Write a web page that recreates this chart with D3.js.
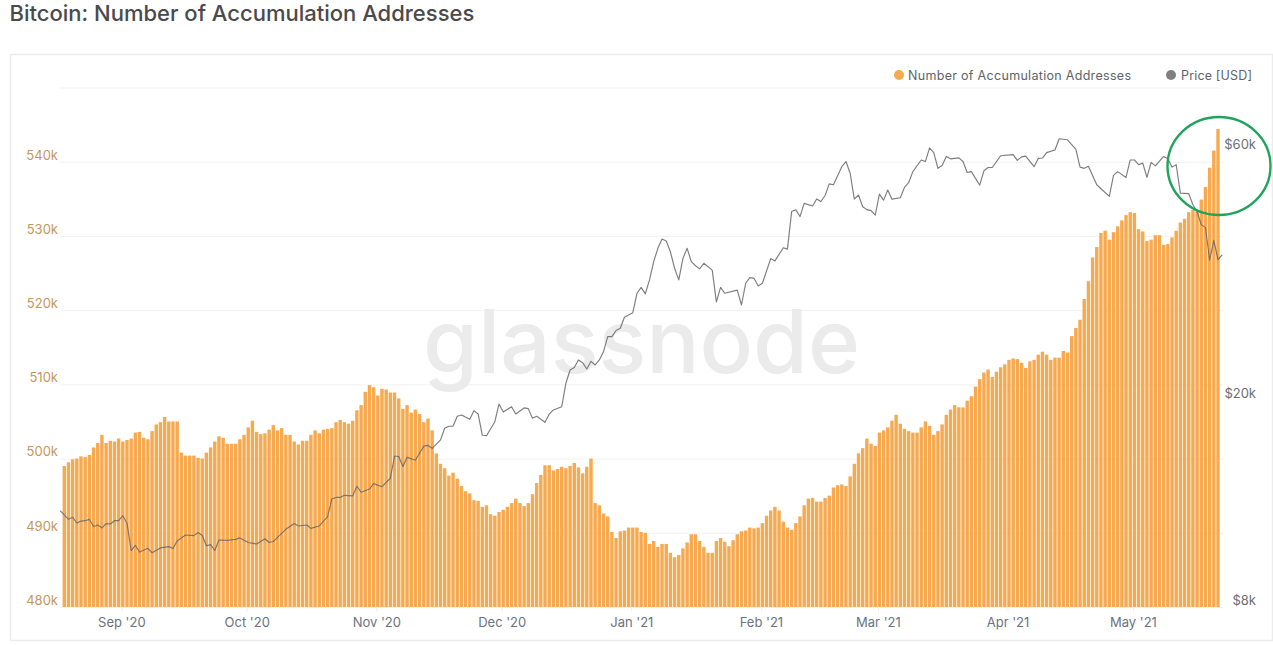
<!DOCTYPE html>
<html lang="en">
<head>
<meta charset="utf-8">
<title>Bitcoin: Number of Accumulation Addresses</title>
<script src="https://cdn.jsdelivr.net/npm/d3@7"></script>
<style>
  html, body { margin: 0; padding: 0; background: #fff; }
  svg { display: block; font-family: Inter, "Noto Sans", sans-serif; }
</style>
</head>
<body>
<script>
// daily number of accumulation addresses (thousands), first value is 18 Aug 2020
var addresses = [
  499.0,499.5,499.9,500.0,500.3,500.2,500.5,501.5,502.1,503.2,
  502.1,502.4,502.3,502.7,502.3,502.5,502.7,503.5,503.6,502.8,
  502.6,503.7,504.6,504.9,505.6,505.0,505.0,505.0,500.8,500.4,
  500.4,500.4,500.1,500.0,500.8,501.5,502.3,503.0,502.8,502.0,
  502.0,502.0,502.6,503.2,504.2,505.1,503.6,503.3,503.4,503.9,
  504.5,503.8,504.1,503.2,503.2,502.3,501.9,502.4,502.4,503.2,
  503.8,503.4,503.9,504.0,504.1,504.9,505.2,504.9,504.7,505.1,
  506.5,507.2,509.0,509.9,509.6,508.5,509.4,509.3,508.9,508.9,
  508.1,506.7,507.2,506.2,506.6,506.0,504.9,505.4,
  503.8,500.7,499.3,498.7,497.7,498.1,497.3,496.3,495.6,495.3,
  494.4,494.3,493.5,493.7,492.5,492.3,492.8,493.1,493.5,494.0,
  494.6,494.0,493.6,494.0,495.2,496.7,497.8,499.1,499.1,498.4,
  498.6,498.9,498.7,499.0,499.4,498.8,498.0,498.9,500.0,494.0,
  493.7,492.6,492.2,490.1,489.3,490.2,490.3,490.7,490.7,490.7,
  490.1,490.0,488.5,488.9,488.1,488.5,488.5,487.3,486.7,487.0,
  487.9,488.7,489.8,489.8,488.9,488.1,487.3,487.3,488.9,489.3,
  488.8,488.2,489.0,489.8,490.2,490.3,490.7,490.6,490.7,491.3,
  492.3,493.0,493.5,493.0,491.5,490.7,490.4,491.3,492.2,493.7,
  494.6,494.7,494.2,494.2,494.7,495.0,496.1,496.4,496.5,496.3,
  497.6,
  499.3,500.7,501.4,502.7,502.0,501.7,503.5,503.8,504.2,505.1,
  505.9,504.7,504.0,503.7,503.5,503.5,504.2,505.0,504.4,503.2,
  503.7,504.6,505.9,506.6,507.2,506.9,506.9,507.8,508.4,509.7,
  510.7,511.6,512.0,511.0,511.7,512.3,512.7,513.3,513.5,513.4,
  512.9,512.2,513.1,513.3,514.0,514.4,514.0,513.3,513.6,513.6,
  514.5,514.3,516.5,517.6,518.7,521.5,523.9,527.1,528.5,530.4,
  530.7,529.5,530.5,531.3,532.1,532.8,533.2,533.1,530.9,530.6,
  529.3,529.5,530.1,530.1,528.8,528.9,529.8,530.7,531.8,532.3,
  533.2,533.5,533.3,534.9,536.6,539.2,541.5,544.4
]

// price [USD, thousands] as [days after 18 Aug 2020, price]
var price = [
  [-1,12.25],[1,11.79],[2,11.9],[3,11.6],[4,11.7],[5,11.72],[6,11.79],[7,11.42],[8,11.5],[9,11.35],
  [10,11.57],[11,11.55],[12,11.72],[13,11.72],[14,11.98],[15,11.59],[16,10.27],[17,10.51],[18,10.2],
  [20,10.37],[21,10.17],[23,10.39],[25,10.45],[26,10.36],[27,10.71],[29,11.0],[31,10.97],[32,11.12],
  [33,10.98],[34,10.49],[35,10.54],[36,10.27],[37,10.76],[39,10.74],[41,10.79],[42,10.86],[44,10.64],
  [46,10.57],[48,10.82],[49,10.64],[50,10.69],[53,11.28],[55,11.57],[56,11.45],[58,11.5],[59,11.33],
  [61,11.45],[63,11.93],[64,12.9],[65,12.99],[66,12.99],[67,13.11],[69,13.08],[70,13.65],[71,13.29],
  [73,13.48],[74,13.81],[76,13.62],[78,14.14],[79,15.6],[80,15.57],[81,14.89],[82,15.51],[84,15.31],
  [86,16.3],[87,16.35],[88,16.14],
  [90,16.75],[91,17.64],[92,17.8],[93,17.8],[94,18.6],[95,18.7],[97,18.35],[98,19.07],[99,18.79],
  [100,17.1],[101,17.07],[103,18.16],[104,19.64],[105,18.96],[107,19.4],[108,18.79],[110,19.3],[111,19.24],
  [112,18.44],[113,18.6],[115,18.11],[116,18.77],[117,19.13],[119,19.4],[120,21.53],[121,22.83],[122,23.07],
  [123,23.86],[124,23.58],[125,22.93],[126,23.72],[127,23.34],[128,23.86],[129,24.76],[130,26.46],[131,26.46],
  [132,27.18],[133,27.46],[134,28.83],[136,29.42],[137,32.05],[138,32.9],[139,31.96],[140,34.0],[141,36.87],
  [142,39.1],[143,40.75],[144,40.4],[145,38.5],[146,35.8],[147,34.0],[148,37.4],[149,39.1],[150,36.87],
  [151,36.2],[152,35.7],[153,36.6],[155,35.5],[156,30.86],[157,32.9],[158,32.05],[161,32.5],[162,30.43],
  [163,33.5],[164,34.35],[165,34.24],[166,33.1],[167,33.5],[169,37.36],[170,36.98],[172,39.2],[173,38.96],
  [174,46.0],[175,46.36],[176,45.0],[177,47.7],[179,47.16],[180,48.64],[181,48.1],[182,49.4],[183,52.0],
  [184,51.8],[186,56.1],[187,57.4],[188,54.5],[189,48.6],[190,49.5],[191,47.0],[192,46.4],[193,46.2],
  [194,45.3],[195,49.7],[196,48.4],[197,50.6],[198,48.6],[200,48.9],[201,51.2],[202,52.3],[203,54.9],
  [205,57.8],[206,57.4],[207,61.0],[208,59.7],[209,55.7],[210,56.4],[211,58.7],[212,58.1],[214,58.35],
  [215,57.4],[216,54.7],[217,54.9],[219,51.7],[220,55.1],[221,55.9],[222,55.9],[224,58.9],[227,59.2],
  [228,57.7],[229,58.6],[230,58.8],[232,56.1],[233,58.2],[234,58.3],[235,59.7],[237,60.4],[238,63.5],
  [240,63.2],[242,60.6],[243,56.0],[244,55.7],[245,56.2],[247,51.8],[248,50.9],[250,49.2],[251,54.0],
  [252,54.9],[254,53.5],[255,57.8],[256,57.8],[257,56.6],[258,57.0],[259,53.5],[260,57.2],[261,56.3],
  [263,58.7],[264,58.1],[265,56.0],[266,56.6],[267,49.9],[269,49.8],[270,47.4],[271,46.0],[272,43.4],
  [273,42.9],[274,37.1],[275,40.5],[276,37.2],[277,38.0]
]

var start = Date.UTC(2020, 7, 18)
function dayToDate(d) { return new Date(start + d * 864e5) }

var svg = d3.select("body").append("svg")
  .attr("width", 1273)
  .attr("height", 646)

// title and card
svg.append("text")
  .attr("x", 9.5).attr("y", 21)
  .attr("font-size", 22).attr("font-weight", 500).attr("fill", "#4a4a4a")
  .text("Bitcoin: Number of Accumulation Addresses")

svg.append("rect")
  .attr("x", 10.5).attr("y", 54.5).attr("width", 1262).attr("height", 586)
  .attr("fill", "#fff").attr("stroke", "#ececec").attr("stroke-width", 1.5)

// scales
var x = d3.scaleUtc().domain([dayToDate(0), dayToDate(276)]).range([64.3, 1218])
var yLeft = d3.scaleLinear().domain([480, 550]).range([607, 87.5])
var yRight = d3.scaleLog().domain([8, 80]).range([607, 86.5])

// gridlines and left axis
var leftAxis = svg.append("g")
  .attr("class", "left")
  .attr("transform", "translate(60,0)")
  .call(d3.axisLeft(yLeft)
    .tickValues(d3.range(480, 551, 10))
    .tickSize(-1163)
    .tickPadding(2)
    .tickFormat(function (d) { return d < 550 ? d + "k" : "" }))
leftAxis.select(".domain").remove()
leftAxis.selectAll("line").attr("stroke", "#f1f1f1")
leftAxis.selectAll("text")
  .attr("font-family", "Inter").attr("font-size", 13).attr("fill", "#c4975a")
  .attr("dy", "-0.2em")

// watermark
svg.append("text")
  .attr("x", 423).attr("y", 373)
  .attr("font-family", "Inter").attr("font-size", 88).attr("font-weight", 500)
  .attr("fill", "#ebebeb")
  .attr("textLength", 437).attr("lengthAdjust", "spacingAndGlyphs")
  .text("glassnode")

// bars
var barWidth = 3.4
svg.append("g").selectAll("rect")
  .data(addresses)
  .enter().append("rect")
  .attr("x", function (d, i) { return x(dayToDate(i)) - barWidth / 2 })
  .attr("y", function (d) { return yLeft(d) })
  .attr("width", barWidth)
  .attr("height", function (d) { return yLeft(480) - yLeft(d) })
  .attr("fill", "#f6a94f")

// price line
var line = d3.line()
  .x(function (d) { return x(dayToDate(d[0])) })
  .y(function (d) { return yRight(d[1]) })

svg.append("path")
  .datum(price)
  .attr("d", line)
  .attr("fill", "none")
  .attr("stroke", "#666")
  .attr("stroke-opacity", 0.85)
  .attr("stroke-width", 1.15)
  .attr("stroke-linejoin", "round")

// right axis
var rightAxis = svg.append("g")
  .attr("transform", "translate(1256,0)")
  .call(d3.axisLeft(yRight)
    .tickValues([8, 20, 60])
    .tickSize(0)
    .tickPadding(0)
    .tickFormat(function (d) { return "$" + d + "k" }))
rightAxis.select(".domain").remove()
rightAxis.selectAll("text")
  .attr("font-family", "Inter").attr("font-size", 13).attr("fill", "#6b6f76")
  .attr("dy", "-0.2em")

// month axis
var bottomAxis = svg.append("g")
  .attr("transform", "translate(-1.5,607)")
  .call(d3.axisBottom(x)
    .ticks(d3.utcMonth.every(1))
    .tickSize(5)
    .tickPadding(6)
    .tickFormat(d3.utcFormat("%b '%y")))
bottomAxis.select(".domain").remove()
bottomAxis.selectAll("line").attr("stroke", "#f0f0f0")
bottomAxis.selectAll("text")
  .attr("font-family", "Inter").attr("font-size", 13).attr("fill", "#6b7280")

// legend
var legend = [
  { label: "Number of Accumulation Addresses", color: "#f6a94f", cx: 899, tx: 908, w: 223 },
  { label: "Price [USD]", color: "#808080", cx: 1171, tx: 1181, w: 71 }
]
var item = svg.append("g").selectAll("g").data(legend).enter().append("g")
item.append("circle")
  .attr("cx", function (d) { return d.cx }).attr("cy", 75).attr("r", 5)
  .attr("fill", function (d) { return d.color })
item.append("text")
  .attr("x", function (d) { return d.tx }).attr("y", 79.5)
  .attr("font-family", "Inter").attr("font-size", 12.5).attr("fill", "#5f6368")
  .attr("textLength", function (d) { return d.w })
  .text(function (d) { return d.label })

// green annotation ring
svg.append("ellipse")
  .attr("cx", 1219).attr("cy", 166).attr("rx", 51.5).attr("ry", 49)
  .attr("fill", "none").attr("stroke", "#1fa55b").attr("stroke-width", 2.4)
</script>
</body>
</html>
